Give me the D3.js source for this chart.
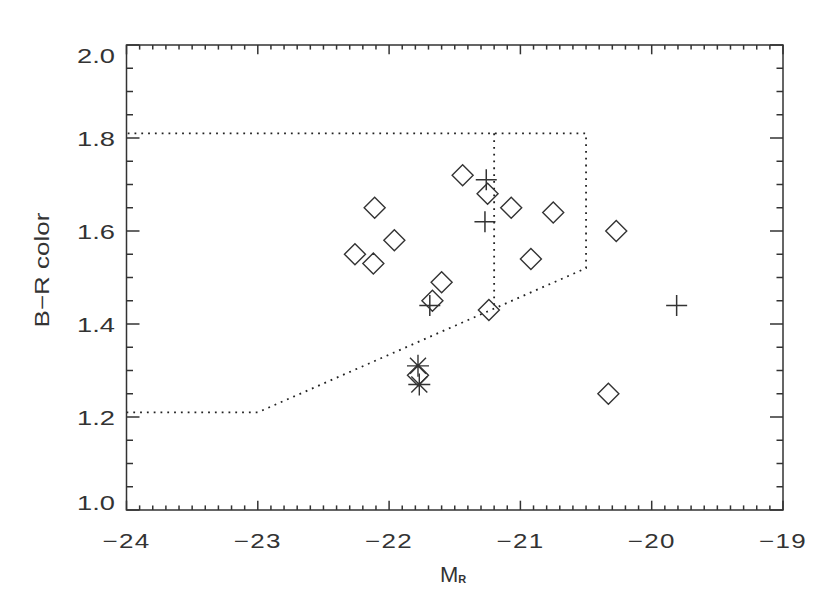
<!DOCTYPE html>
<html>
<head>
<meta charset="utf-8">
<script src="https://cdn.jsdelivr.net/npm/d3@7"></script>
<style>
  body { margin: 0; background: white; }
  text { font-family: "Liberation Sans", Arial, sans-serif; fill: #333; }
</style>
</head>
<body>
<div id="container"></div>
<script>
const width = 830;
const height = 611;

// data
const diamondX = [-22.26, -22.12, -22.11, -21.96, -21.60, -21.67, -21.44, -21.25, -21.24, -21.07, -20.92, -20.75, -20.27, -20.33, -21.78];
const diamondY = [1.55, 1.53, 1.65, 1.58, 1.49, 1.45, 1.72, 1.68, 1.43, 1.65, 1.54, 1.64, 1.60, 1.25, 1.29];
const plusX = [-21.26, -21.27, -21.69, -19.81];
const plusY = [1.71, 1.62, 1.44, 1.44];
const starX = [-21.78, -21.77];
const starY = [1.31, 1.27];

// dotted boundary
const boundX = [-24, -23, -20.5, -20.5, -24];
const boundY = [1.21, 1.21, 1.52, 1.81, 1.81];
const innerX = [-21.2, -21.2];
const innerY = [1.81, 1.433];

const xTicks = [-24, -23, -22, -21, -20, -19];
const yTicks = [1.0, 1.2, 1.4, 1.6, 1.8, 2.0];

const margin = {left: 126.5, right: 830 - 783, top: 45, bottom: 611 - 510};

const x = d3.scaleLinear().domain([-24, -19]).range([margin.left, width - margin.right]);
const y = d3.scaleLinear().domain([1.0, 2.0]).range([height - margin.bottom, margin.top]);

const svg = d3.select("#container").append("svg")
  .attr("width", width)
  .attr("height", height)
  .style("background-color", "white");

const ink = "#333";

// dotted region
const line = d3.line().x(d => x(d[0])).y(d => y(d[1]));
svg.append("path")
  .attr("d", line(boundX.map((v, i) => [v, boundY[i]])))
  .attr("fill", "none")
  .attr("stroke", "#222")
  .attr("stroke-width", 1.8)
  .attr("stroke-dasharray", "1.8 5");
svg.append("path")
  .attr("d", line(innerX.map((v, i) => [v, innerY[i]])))
  .attr("fill", "none")
  .attr("stroke", "#222")
  .attr("stroke-width", 1.8)
  .attr("stroke-dasharray", "1.8 5");

// frame
const x0 = x(-24), x1 = x(-19), y0 = y(1.0), y1 = y(2.0);
svg.append("rect")
  .attr("x", x0).attr("y", y1)
  .attr("width", x1 - x0).attr("height", y0 - y1)
  .attr("fill", "none").attr("stroke", ink).attr("stroke-width", 1.5);

// ticks: IDL style, inward on all four sides
const xMinor = d3.range(0, 51).map(i => -24 + i * 0.1);
const yMinor = d3.range(0, 21).map(i => 1.0 + i * 0.05);
const ticks = svg.append("g").attr("stroke", ink).attr("stroke-width", 1.5);
xMinor.forEach((v, i) => {
  const len = (i % 10 == 0) ? 9.3 : 4.6;
  ticks.append("line").attr("x1", x(v)).attr("x2", x(v)).attr("y1", y0).attr("y2", y0 - len);
  ticks.append("line").attr("x1", x(v)).attr("x2", x(v)).attr("y1", y1).attr("y2", y1 + len);
});
yMinor.forEach((v, i) => {
  const len = (i % 4 == 0) ? 13 : 6.5;
  ticks.append("line").attr("y1", y(v)).attr("y2", y(v)).attr("x1", x0).attr("x2", x0 + len);
  ticks.append("line").attr("y1", y(v)).attr("y2", y(v)).attr("x1", x1).attr("x2", x1 - len);
});

// tick labels (wide, thin lettering like the original)
svg.selectAll(".xlab").data(xTicks).enter().append("text")
  .attr("class", "xlab")
  .attr("transform", d => "translate(" + x(d) + ",548) scale(1.3,1)")
  .attr("text-anchor", "middle")
  .style("font-size", "20px")
  .style("letter-spacing", "1px")
  .text(d => "\u2212" + Math.abs(d));

function yLabelPos(d, i) {
  let base = y(d) + 7.5;
  if (i == 0) base = y0;
  if (i == yTicks.length - 1) base = y1 + 18;
  return "translate(115," + base + ") scale(1.3,1)";
}
svg.selectAll(".ylab").data(yTicks).enter().append("text")
  .attr("class", "ylab")
  .attr("transform", yLabelPos)
  .attr("text-anchor", "end")
  .style("font-size", "21px")
  .text(d => d.toFixed(1));

// axis titles
const xt = svg.append("text")
  .attr("x", 440)
  .attr("y", 582)
  .style("font-size", "22px");
xt.append("tspan").text("M");
xt.append("tspan").attr("dy", 1).style("font-size", "11px").style("font-weight", "bold").text("R");

svg.append("text")
  .attr("transform", "translate(49,270) rotate(-90) scale(1.3,1)")
  .attr("text-anchor", "middle")
  .style("font-size", "20px")
  .text("B\u2212R color");

// markers
const r = 10.5;
svg.selectAll(".diamond").data(diamondX).enter().append("path")
  .attr("class", "diamond")
  .attr("d", (d, i) => {
    const cx = x(d), cy = y(diamondY[i]);
    return "M" + (cx - r) + "," + cy + "L" + cx + "," + (cy - r) + "L" + (cx + r) + "," + cy + "L" + cx + "," + (cy + r) + "Z";
  })
  .attr("fill", "none").attr("stroke", ink).attr("stroke-width", 1.4);

svg.selectAll(".plus").data(plusX).enter().append("path")
  .attr("class", "plus")
  .attr("d", (d, i) => {
    const cx = x(d), cy = y(plusY[i]);
    return "M" + (cx - r) + "," + cy + "H" + (cx + r) + "M" + cx + "," + (cy - r) + "V" + (cy + r);
  })
  .attr("fill", "none").attr("stroke", ink).attr("stroke-width", 1.5);

const a = 8;
svg.selectAll(".star").data(starX).enter().append("path")
  .attr("class", "star")
  .attr("d", (d, i) => {
    const cx = x(d), cy = y(starY[i]);
    return "M" + (cx - 11) + "," + cy + "H" + (cx + 11) +
           "M" + cx + "," + (cy - 11) + "V" + (cy + 11) +
           "M" + (cx - a) + "," + (cy - a) + "L" + (cx + a) + "," + (cy + a) +
           "M" + (cx - a) + "," + (cy + a) + "L" + (cx + a) + "," + (cy - a);
  })
  .attr("fill", "none").attr("stroke", ink).attr("stroke-width", 1.4);
</script>
</body>
</html>
